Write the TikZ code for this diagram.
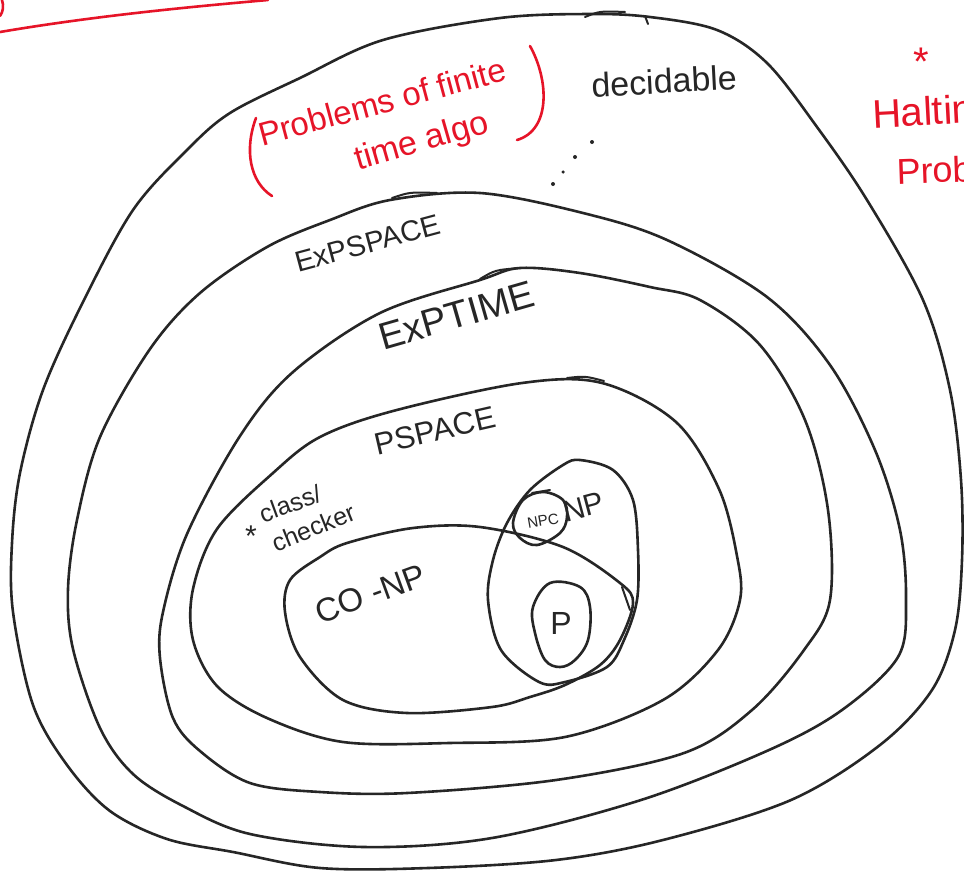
\documentclass[tikz,border=0pt]{standalone}
\usepackage{fontspec}
\setmainfont{Liberation Sans}
\definecolor{inkc}{RGB}{38,38,38}
\definecolor{redc}{RGB}{230,20,40}
\newcommand\fsz[1]{\fontsize{#1}{#1}\selectfont}
\tikzset{
  ink/.style={draw=inkc, line width=2.6pt, line cap=round, line join=round},
  redink/.style={draw=redc, line width=2.6pt, line cap=round, line join=round},
  hand/.style={inner sep=0pt, outer sep=0pt, text=inkc},
  redhand/.style={inner sep=0pt, outer sep=0pt, text=redc},
  blob/.style={circle, fill=inkc, inner sep=0pt, minimum size=4pt},
}
\begin{document}
\begin{tikzpicture}[x=1pt,y=-1pt]
\clip (0,0) rectangle (964,871);
\fill[white] (0,0) rectangle (964,871);

% decidable
\draw[ink] plot[smooth cycle, tension=0.55] coordinates {
  (590,14) (650,17) (717,30) (767,63) (817,127) (867,200) (923,300)
  (950,390) (961,480) (962,560) (955,630) (932,690) (880,745) (791,800)
  (663,840) (556,860) (428,868) (320,868) (233,852) (167,839) (110,811)
  (67,765) (33,705) (13,612) (12,543) (20,473) (43,390) (83,302)
  (133,210) (187,150) (230,113) (300,78) (383,40) (500,18)};
% EXPSPACE
\draw[ink] plot[smooth cycle, tension=0.55] coordinates {
  (480,193) (583,213) (667,240) (767,297) (830,365) (875,450) (900,530)
  (906,600) (898,657) (842,710) (769,750) (641,800) (492,838) (364,847)
  (250,834) (183,806) (133,774) (100,728) (73,649) (68,589) (77,520)
  (100,437) (150,349) (200,293) (267,247) (330,220) (390,200)};
% EXPTIME
\draw[ink] plot[smooth cycle, tension=0.55] coordinates {
  (520,268) (580,273) (650,287) (700,300) (760,345) (805,420) (828,510)
  (830,600) (804,650) (752,710) (684,753) (556,780) (407,793) (320,792)
  (250,783) (200,751) (173,718) (160,658) (163,612) (187,534) (240,436)
  (293,372) (380,313) (480,280)};
% PSPACE
\draw[ink] plot[smooth cycle, tension=0.55] coordinates {
  (602,383) (676,422) (719,489) (737,556) (740,600) (718,650) (663,700)
  (565,737) (449,743) (343,742) (267,718) (217,686) (193,640) (193,589)
  (217,529) (273,473) (320,437) (393,411) (522,383)};
% CO-NP
\draw[ink] plot[smooth cycle, tension=0.55] coordinates {
  (413,528) (480,527) (563,547) (620,583) (633,603) (620,640) (600,665)
  (565,685) (530,697) (492,707) (407,713) (343,700) (300,657) (285,612)
  (290,580) (320,557) (347,543)};
% NP
\draw[ink] plot[smooth cycle, tension=0.55] coordinates {
  (580,460) (613,470) (633,500) (638,550) (637,600) (624,640) (607,667)
  (565,682) (539,682) (501,650) (488,600) (493,560) (507,523) (530,490)
  (563,465)};
% NP-complete
\draw[ink] plot[smooth cycle, tension=0.6] coordinates {
  (513,523) (523,500) (543,492) (563,500) (567,517) (560,533) (537,545)
  (520,538)};
% P
\draw[ink] plot[smooth cycle, tension=0.6] coordinates {
  (533,607) (550,583) (580,587) (590,607) (588,640) (575,660) (560,667)
  (545,660) (535,633)};

% overlapping pen strokes where the loops close
\draw[ink, line width=2pt] (585,17) .. controls (600,11) .. (625,12);
\draw[ink, line width=2pt] (645,16) -- (648,24);
\draw[ink, line width=2pt] (392,198) .. controls (410,192) .. (437,193);
\draw[ink, line width=2pt] (480,279) .. controls (495,270) .. (520,268);
\draw[ink, line width=2pt] (567,378) .. controls (585,376) .. (604,381);
\draw[ink, line width=2pt] (532,493) -- (550,490);
\draw[ink, line width=2pt] (622,587) -- (630,610);

% dots
\node[blob] (d1) at (592,142) {};
\node[blob] (d2) at (575,157) {};
\node[blob, minimum size=3.5pt] (d3) at (563,172) {};
\node[blob] (d4) at (553,184) {};

% labels
\node[hand, anchor=base west, rotate=3] (decidable) at (592,97) {\fsz{34}decidable};
\node[hand, anchor=base west, rotate=15] (expspace) at (298,272) {\fsz{29}ExPSPACE};
\node[hand, anchor=base west, rotate=16] (exptime) at (383,350) {\fsz{38}ExPTIME};
\node[hand, anchor=base west, rotate=13] (pspace) at (377,455) {\fsz{31}PSPACE};
\node[hand] (star) at (251,536) {\fsz{30}*};
\node[hand, anchor=base west, rotate=20] (class) at (263,523) {\fsz{25}class/};
\node[hand, anchor=base west, rotate=22] (checker) at (276,552) {\fsz{25}checker};
\node[hand, anchor=base west, rotate=20] (conp) at (320,624) {\fsz{33}CO -NP};
\node[hand, anchor=base west, rotate=15] (np) at (566,522) {\fsz{30}NP};
\node[hand, rotate=10] (npc) at (543,521) {\fsz{15}NPC};
\node[hand] (p) at (561,623) {\fsz{32}P};

% red annotations
\draw[redink] (0,32) .. controls (100,15) and (200,6) .. (268,0);
\draw[redink] (2,0) .. controls (4,6) and (3,12) .. (0,16);
\draw[redink] (256,118) .. controls (244,150) and (250,182) .. (272,196);
\draw[redink] (530,46) .. controls (549,80) and (551,130) .. (517,140);
\node[redhand, anchor=base west, rotate=15] (problems) at (262,146) {\fsz{33}Problems of finite};
\node[redhand, anchor=base west, rotate=16] (timealgo) at (358,170) {\fsz{34}time algo};
\node[redhand] (hstar) at (921,62) {\fsz{40}*};
\node[redhand, anchor=base west, rotate=3] (halting) at (873,128) {\fsz{40}Halting};
\node[redhand, anchor=base west, rotate=2] (problem) at (897,184) {\fsz{36}Problem};
\end{tikzpicture}
\end{document}
